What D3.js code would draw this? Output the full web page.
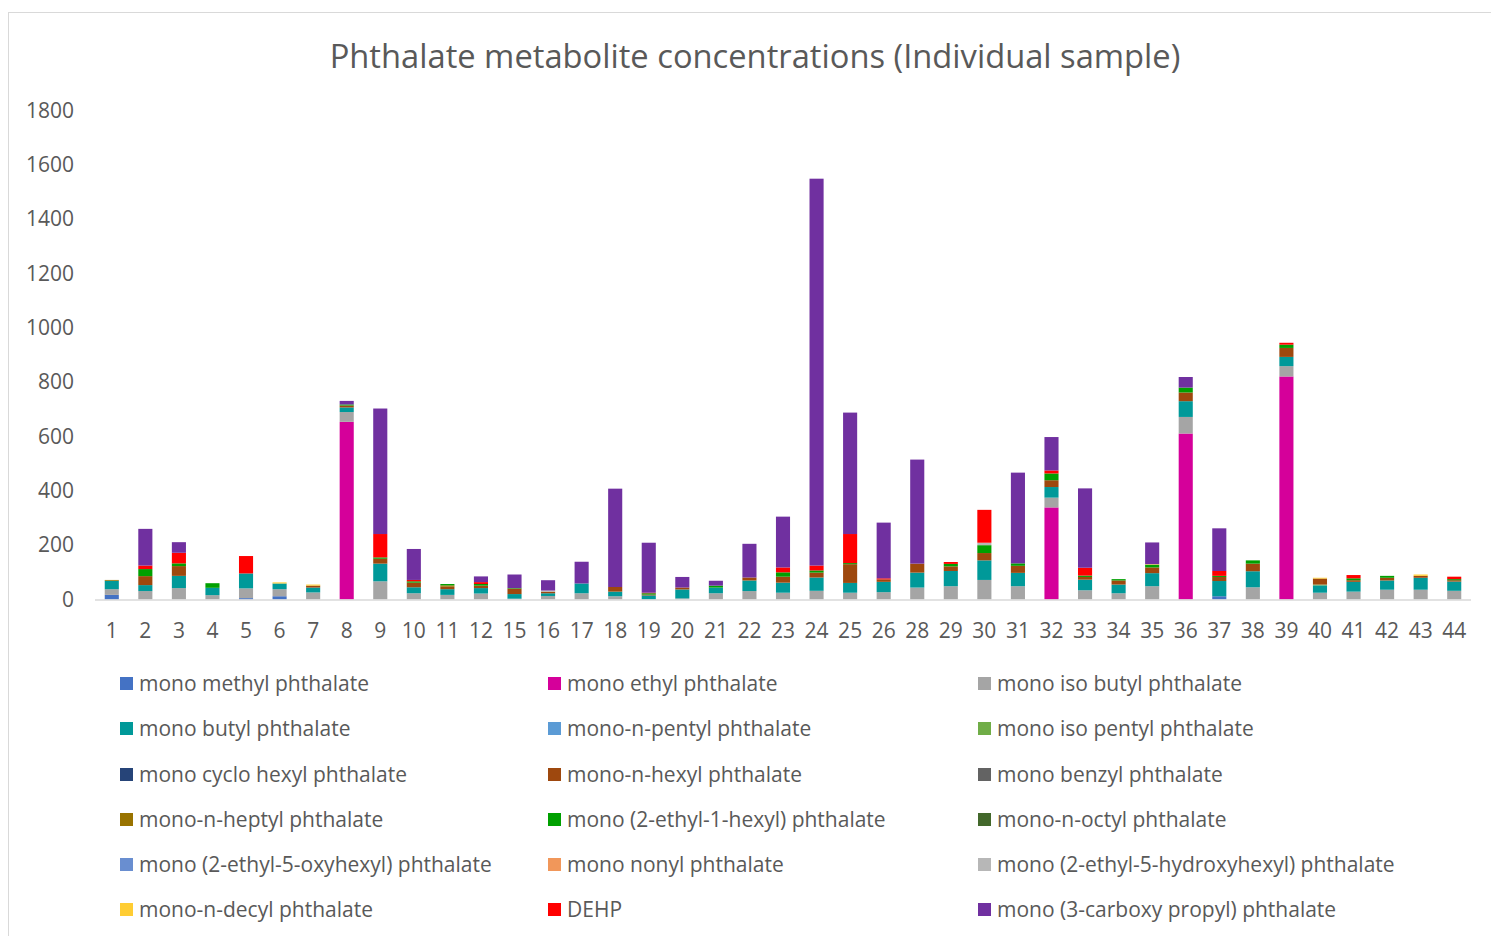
<!DOCTYPE html>
<html>
<head>
<meta charset="utf-8">
<script src="https://cdn.jsdelivr.net/npm/d3@7/dist/d3.min.js"></script>
<style>
  html, body { margin: 0; padding: 0; background: #fff; }
  svg { display: block; font-family: "Open Sans", "Noto Sans", sans-serif; }
</style>
</head>
<body>
<svg id="chart" width="1491" height="936"></svg>
<script>
const categories = ["1","2","3","4","5","6","7","8","9","10","11","12","15","16","17","18","19","20","21","22","23","24","25","26","28","29","30","31","32","33","34","35","36","37","38","39","40","41","42","43","44"];
const yTicks = [0,200,400,600,800,1000,1200,1400,1600,1800];

const seriesNames = ["mono methyl phthalate","mono ethyl phthalate","mono iso butyl phthalate","mono butyl phthalate","mono-n-pentyl phthalate","mono iso pentyl phthalate","mono cyclo hexyl phthalate","mono-n-hexyl phthalate","mono benzyl phthalate","mono-n-heptyl phthalate","mono (2-ethyl-1-hexyl) phthalate","mono-n-octyl phthalate","mono (2-ethyl-5-oxyhexyl) phthalate","mono nonyl phthalate","mono (2-ethyl-5-hydroxyhexyl) phthalate","mono-n-decyl phthalate","DEHP","mono (3-carboxy propyl) phthalate"];
const seriesColors = ["#4472C4","#D5009A","#A5A5A5","#009999","#5B9BD5","#70AD47","#264478","#9E480E","#636363","#997300","#00A000","#43682B","#698ED0","#F1975A","#B7B7B7","#FFCD33","#FF0000","#7030A0"];

const z = () => new Array(41).fill(0);
const monoMethyl = z(); monoMethyl[0]=17; monoMethyl[4]=5; monoMethyl[5]=12; monoMethyl[33]=12;
const monoEthyl = z(); monoEthyl[7]=654; monoEthyl[28]=339; monoEthyl[32]=611; monoEthyl[35]=821;
const monoIsoButyl = [21,31,42,16,36,26,26,36,67,23,17,22,3,13,23,12,0,4,23,31,25,32,25,27,44,49,72,49,36,34,23,49,61,0,45,38,25,29,36,36,32];
const monoButyl = [31,22,45,27,55,21,18,17,65,22,21,20,17,10,36,17,15,33,21,39,37,49,36,38,55,56,72,49,39,39,32,48,58,56,59,34,27,36,34,44,34];
const monoNPentyl = z();
const monoIsoPentyl = z(); monoIsoPentyl[36]=3;
const monoCycloHexyl = z();
const monoNHexyl = [0,33,36,0,0,0,7,7,18,17,9,9,20,6,0,17,3,7,0,11,22,18,69,9,33,17,27,26,25,10,15,21,32,15,28,33,22,6,10,7,5];
const monoBenzyl = z();
const monoNHeptyl = z(); monoNHeptyl[0]=3; monoNHeptyl[10]=5;
const mono2EH = [0,26,10,17,0,0,0,4,5,5,5,6,2,0,0,0,5,0,7,0,16,8,4,0,0,9,29,9,25,5,5,10,18,4,12,12,0,7,7,0,4];
const monoNOctyl = z();
const monoOxy = z();
const monoNonyl = z();
const monoHydroxy = z(); monoHydroxy[13]=4; monoHydroxy[26]=9;
const monoNDecyl = z(); monoNDecyl[5]=4; monoNDecyl[6]=4; monoNDecyl[31]=2; monoNDecyl[36]=3; monoNDecyl[39]=5;
const dehp = [0,13,39,0,64,0,0,0,86,5,0,7,0,0,0,0,2,0,0,0,18,18,107,4,0,7,121,0,11,29,0,0,0,18,0,7,0,12,0,0,9];
const monoCarboxy = [0,135,39,0,0,0,0,13,462,114,0,21,50,38,80,362,184,39,18,124,187,1424,447,205,383,0,0,334,123,292,0,80,39,157,0,0,0,0,0,0,0];

const seriesValues = [monoMethyl,monoEthyl,monoIsoButyl,monoButyl,monoNPentyl,monoIsoPentyl,monoCycloHexyl,monoNHexyl,monoBenzyl,monoNHeptyl,mono2EH,monoNOctyl,monoOxy,monoNonyl,monoHydroxy,monoNDecyl,dehp,monoCarboxy];

const table = categories.map((c, i) => {
  const row = { cat: c };
  seriesNames.forEach((s, k) => { row[s] = seriesValues[k][i]; });
  return row;
});

const svg = d3.select("#chart");
const textColor = "#595959";

svg.append("rect").attr("x", 8.5).attr("y", 12.5).attr("width", 1490).attr("height", 940)
  .attr("fill", "#fff").attr("stroke", "#d9d9d9").attr("stroke-width", 1);

svg.append("text").attr("x", 755).attr("y", 68).attr("text-anchor", "middle")
  .attr("font-size", 32.7).attr("fill", textColor).text("Phthalate metabolite concentrations (Individual sample)");

const x = d3.scaleBand().domain(categories).range([95, 1471]).paddingInner(0.58).paddingOuter(0.29);
const y = d3.scaleLinear().domain([0, 1800]).range([599.5, 110.5]);

const stack = d3.stack().keys(seriesNames);
const layers = stack(table);

const g = svg.append("g");
layers.forEach((layer, k) => {
  g.append("g").attr("fill", seriesColors[k])
    .selectAll("rect").data(layer.filter(d => d[1] - d[0] > 0)).join("rect")
    .attr("x", d => x(d.data.cat))
    .attr("width", x.bandwidth())
    .attr("y", d => y(d[1]))
    .attr("height", d => y(d[0]) - y(d[1]));
});

// x axis line
svg.append("line").attr("x1", 95).attr("x2", 1471).attr("y1", 600).attr("y2", 600)
  .attr("stroke", "#d9d9d9").attr("stroke-width", 1.5);

// y labels
const yAxis = d3.axisLeft(y).tickValues(yTicks).tickFormat(d3.format("d")).tickSize(0).tickPadding(0);
const ya = svg.append("g").attr("transform", "translate(74,0)").call(yAxis);
ya.select(".domain").remove();
ya.selectAll("text").attr("font-size", 21).attr("fill", textColor).attr("font-family", "Open Sans");

// x labels
const xAxis = d3.axisBottom(x).tickSize(0).tickPadding(0);
const xa = svg.append("g").attr("transform", "translate(0,623)").call(xAxis);
xa.select(".domain").remove();
xa.selectAll("text").attr("font-size", 21).attr("fill", textColor).attr("font-family", "Open Sans");

// legend
const colX = [120, 548, 978];
const rowY = [684, 729, 775, 820, 865, 910];
const leg = svg.append("g");
seriesNames.forEach((s, k) => {
  const cx = colX[k % 3], cy = rowY[Math.floor(k / 3)];
  leg.append("rect").attr("x", cx).attr("y", cy - 7).attr("width", 13).attr("height", 13).attr("fill", seriesColors[k]);
  leg.append("text").attr("x", cx + 19).attr("y", cy).attr("dy", "0.35em")
    .attr("font-size", 21).attr("fill", textColor).text(s);
});
</script>
</body>
</html>
